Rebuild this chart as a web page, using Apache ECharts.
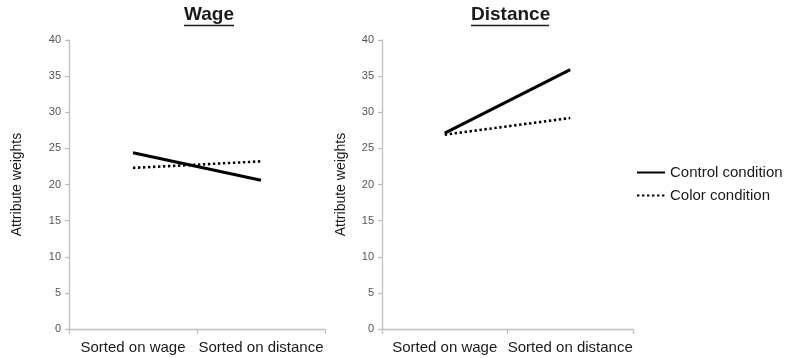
<!DOCTYPE html>
<html><head><meta charset="utf-8">
<script src="https://cdn.jsdelivr.net/npm/echarts@6/dist/echarts.min.js"></script>
<style>html,body{margin:0;padding:0;background:#fff}#c{width:788px;height:358px}</style>
</head><body><div id="c"></div>
<script>
var categories = ['Sorted on wage', 'Sorted on distance'];
var wageControl = [24.4, 20.6];
var wageColor = [22.3, 23.2];
var distanceControl = [27.1, 35.9];
var distanceColor = [26.9, 29.2];
var yTicks = {min: 0, max: 40, interval: 5};
var panelTitles = ['Wage', 'Distance'];
var seriesNames = ['Control condition', 'Color condition'];
var yName = 'Attribute weights';

var F = '"Liberation Sans", Arial, sans-serif';
var axisGray = '#bfbfbf';
function xAxis(i) {
  return {type: 'category', gridIndex: i, data: categories, boundaryGap: true,
    axisLine: {lineStyle: {color: axisGray, width: 1.3}},
    axisTick: {show: true, length: 5, lineStyle: {color: axisGray, width: 1.3}},
    axisLabel: {color: '#1a1a1a', fontFamily: F, fontSize: 15, margin: 11, interval: 0, hideOverlap: false}};
}
function yAxis(i, gap) {
  return {type: 'value', gridIndex: i, min: yTicks.min, max: yTicks.max, interval: yTicks.interval,
    name: yName, nameLocation: 'middle', nameGap: gap, nameRotate: 90,
    nameTextStyle: {color: '#1a1a1a', fontFamily: F, fontSize: 14},
    axisLine: {show: true, lineStyle: {color: axisGray, width: 1.3}},
    axisTick: {show: true, length: 4, lineStyle: {color: axisGray, width: 1.3}},
    splitLine: {show: false},
    axisLabel: {color: '#555', fontFamily: F, fontSize: 11, margin: 8}};
}
var solid = {color: '#000', width: 3, type: 'solid'};
var dotted = {color: '#000', width: 2.6, type: [2.4, 2.6]};
function line(name, data, i, ls) {
  return {name: name, type: 'line', xAxisIndex: i, yAxisIndex: i, data: data,
    symbol: 'none', showSymbol: false, lineStyle: ls, itemStyle: {color: '#000'},
    silent: true, animation: false};
}
var chart = echarts.init(document.getElementById('c'));
chart.setOption({
  backgroundColor: '#fff',
  animation: false,
  title: [
    {text: panelTitles[0], left: 184, top: 5, padding: 0,
      textStyle: {fontFamily: F, fontSize: 19, fontWeight: 'bold', color: '#1a1a1a'}},
    {text: panelTitles[1], left: 471, top: 5, padding: 0,
      textStyle: {fontFamily: F, fontSize: 19, fontWeight: 'bold', color: '#1a1a1a'}}
  ],
  graphic: [
    {type: 'line', shape: {x1: 184, y1: 25.5, x2: 234, y2: 25.5}, style: {stroke: '#1a1a1a', lineWidth: 1.6}},
    {type: 'line', shape: {x1: 471, y1: 25.5, x2: 549, y2: 25.5}, style: {stroke: '#1a1a1a', lineWidth: 1.6}}
  ],
  legend: {
    orient: 'vertical', left: 636, top: 165, padding: 0, itemWidth: 28, itemHeight: 14, itemGap: 8,
    data: seriesNames,
    itemStyle: {opacity: 0},
    textStyle: {fontFamily: F, fontSize: 15, color: '#1a1a1a'},
    selectedMode: false
  },
  grid: [
    {left: 69, right: 463, top: 40, bottom: 29},
    {left: 382, right: 155, top: 40, bottom: 29}
  ],
  xAxis: [xAxis(0), xAxis(1)],
  yAxis: [yAxis(0, 45), yAxis(1, 34)],
  series: [
    line(seriesNames[0], wageControl, 0, solid),
    line(seriesNames[1], wageColor, 0, dotted),
    line(seriesNames[0], distanceControl, 1, solid),
    line(seriesNames[1], distanceColor, 1, dotted)
  ]
});
</script></body></html>
